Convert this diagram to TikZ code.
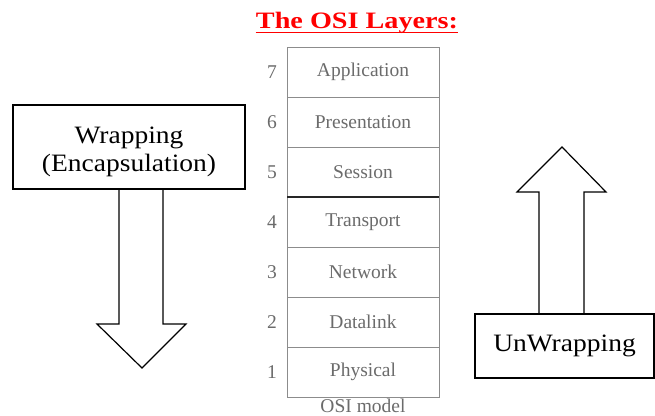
\documentclass[tikz,border=0pt]{standalone}
\usepackage{fontspec}
\setmainfont{Liberation Serif}
\newfontfamily\widefont{Liberation Serif}[FakeStretch=1.1]
\newfontfamily\titlefont{Liberation Serif}[FakeStretch=1.2]
\begin{document}
\begin{tikzpicture}[x=1pt,y=-1pt,
  bigbox/.style={draw=black,line width=1.2pt,fill=white,inner sep=0pt},
  bigtxt/.style={font=\widefont\fontsize{25}{28}\selectfont,align=center},
  layer/.style={draw=black!45,line width=0.9pt,minimum width=152pt,minimum height=50pt,inner sep=0pt,outer sep=0pt,
    font=\fontsize{19.5}{22}\selectfont,text=black!58},
  num/.style={font=\fontsize{19.5}{22}\selectfont,text=black!58},
  blockarrow/.style={draw=black,line width=1.2pt,fill=white,line join=miter}]
\useasboundingbox (0,0) rectangle (655,415);
% title
\node[font=\titlefont\bfseries\fontsize{23.5}{26}\selectfont,text=red,inner sep=0pt,anchor=base] (title) at (357,28) {The OSI Layers:};
\draw[red,line width=1.8pt] ([yshift=-4.5pt]title.base west) -- ([yshift=-4.5pt]title.base east);
% stack
\node[layer] (l7) at (363,72) {Application};
\node[layer,anchor=north] (l6) at (l7.south) {Presentation};
\node[layer,anchor=north] (l5) at (l6.south) {Session};
\node[layer,anchor=north] (l4) at (l5.south) {Transport};
\node[layer,anchor=north] (l3) at (l4.south) {Network};
\node[layer,anchor=north] (l2) at (l3.south) {Datalink};
\node[layer,anchor=north] (l1) at (l2.south) {Physical};
\draw[line width=2.5pt,black!85] (l5.south west) -- (l5.south east);
\foreach \i in {1,...,7}{\node[num,anchor=center] (n\i) at ([xshift=-15pt]l\i.west) {\i};}
\node[num,anchor=base] (cap) at (363,412) {OSI model};
% left arrow and box
\coordinate (dl) at (119,187);
\coordinate (dr) at (163,187);
\draw[blockarrow] (dl) -- (119,324) -- (97,324) -- (142,368) -- (186,324) -- (163,324) -- (dr);
\node[bigbox,minimum width=232pt,minimum height=84pt] (wrap) at (129,147) {};
\node[bigtxt] (wraptxt) at (129,152) {Wrapping\\(Encapsulation)};
% right arrow and box
\coordinate (ul) at (539,316);
\coordinate (ur) at (584,316);
\draw[blockarrow] (ul) -- (539,192) -- (517,192) -- (562,147) -- (606,192) -- (584,192) -- (ur);
\node[bigbox,minimum width=179pt,minimum height=64pt] (unwrap) at (564.5,346) {};
\node[bigtxt] (unwraptxt) at (564.5,346) {UnWrapping};
\end{tikzpicture}
\end{document}
